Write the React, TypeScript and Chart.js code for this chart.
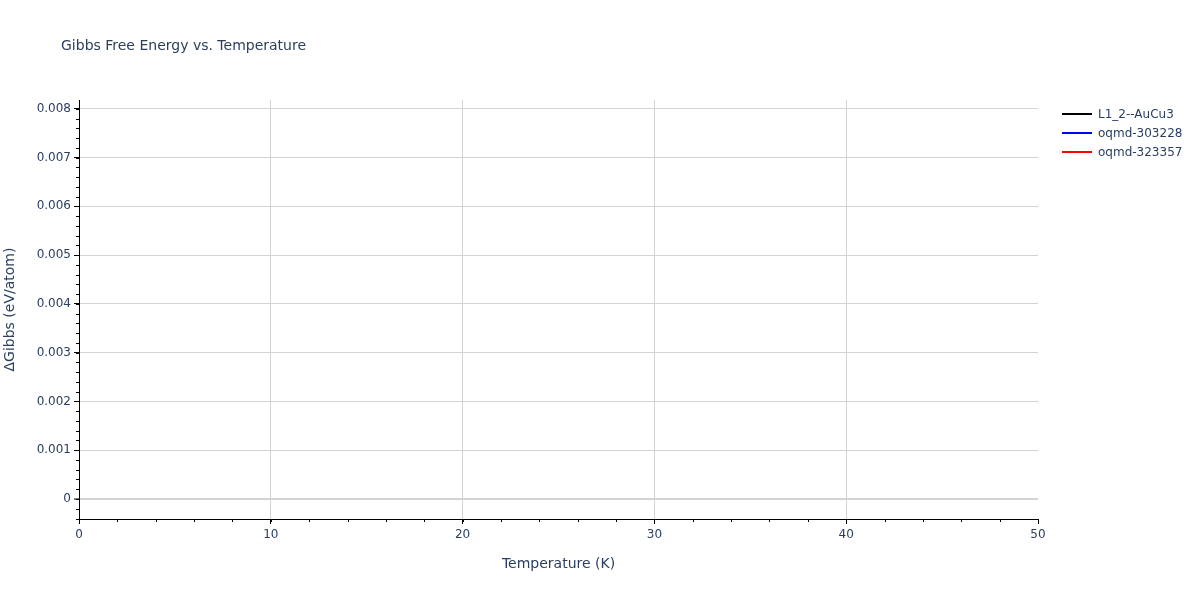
import React, { useEffect, useRef } from "react";
import Chart from "chart.js/auto";

// series (no points fall inside the plotted window in the reference)
const seriesNames = ["L1_2--AuCu3", "oqmd-303228", "oqmd-323357"];
const seriesColors = ["#000000", "#0000ff", "#ff0000"];
const temperatures: number[] = [];
const gibbsAuCu3: number[] = [];
const gibbsOqmd303228: number[] = [];
const gibbsOqmd323357: number[] = [];

// axes
const xTicks = [0, 10, 20, 30, 40, 50];
const yTicks = [0, 0.001, 0.002, 0.003, 0.004, 0.005, 0.006, 0.007, 0.008];
const xRange = [0, 50];
const yRange = [-0.00041, 0.00818];

const FONT = "'DejaVu Sans', Verdana, sans-serif";
const TEXT = "#2a3f5f";
const GRID = "#d3d3d3";

const toPoints = (ys: number[]) => temperatures.map((t, i) => ({ x: t, y: ys[i] }));

const decorPlugin = {
  id: "decor",
  afterDraw(chart: any) {
    const ctx = chart.ctx as CanvasRenderingContext2D;
    const xs = chart.scales.x;
    const ys = chart.scales.y;
    const area = chart.chartArea;
    ctx.save();

    // minor ticks
    ctx.strokeStyle = "#000";
    ctx.lineWidth = 1;
    ctx.beginPath();
    for (let v = xRange[0]; v <= xRange[1] + 1e-9; v += 2) {
      const px = Math.round(xs.getPixelForValue(v)) + 0.5;
      ctx.moveTo(px, area.bottom);
      ctx.lineTo(px, area.bottom + 3);
    }
    for (let k = -2; k <= 40; k++) {
      const py = Math.round(ys.getPixelForValue(k * 0.0002)) + 0.5;
      ctx.moveTo(area.left, py);
      ctx.lineTo(area.left - 3, py);
    }
    ctx.stroke();

    // title
    ctx.fillStyle = TEXT;
    ctx.font = `14px ${FONT}`;
    ctx.textBaseline = "middle";
    ctx.textAlign = "left";
    ctx.fillText("Gibbs Free Energy vs. Temperature", 61, 46);

    // legend
    ctx.font = `12px ${FONT}`;
    chart.data.datasets.forEach((ds: any, i: number) => {
      const y = 114 + i * 19;
      ctx.strokeStyle = ds.borderColor;
      ctx.lineWidth = 2;
      ctx.beginPath();
      ctx.moveTo(1062, y);
      ctx.lineTo(1092, y);
      ctx.stroke();
      ctx.fillStyle = TEXT;
      ctx.fillText(ds.label, 1098, y + 1);
    });
    ctx.restore();
  },
};

const App: React.FC = () => {
  const chartRef = useRef<HTMLCanvasElement | null>(null);
  const chartInstance = useRef<Chart | null>(null);

  useEffect(() => {
    document.body.style.margin = "0";
    if (!chartRef.current) return;
    if (chartInstance.current) chartInstance.current.destroy();
    const ctx = chartRef.current.getContext("2d");
    if (!ctx) return;

    const series = [gibbsAuCu3, gibbsOqmd303228, gibbsOqmd323357];

    chartInstance.current = new Chart(ctx, {
      type: "line",
      data: {
        datasets: series.map((ys, i) => ({
          label: seriesNames[i],
          data: toPoints(ys),
          borderColor: seriesColors[i],
          backgroundColor: seriesColors[i],
          borderWidth: 2,
          pointRadius: 0,
          fill: false,
        })),
      },
      options: {
        animation: false,
        responsive: false,
        layout: { padding: { top: 100, right: 162, left: 0, bottom: 0 } },
        plugins: {
          legend: { display: false },
          title: { display: false },
          tooltip: { enabled: false },
        },
        scales: {
          x: {
            type: "linear",
            min: xRange[0],
            max: xRange[1],
            afterBuildTicks: (s: any) => {
              s.ticks = xTicks.map((value) => ({ value }));
            },
            afterFit: (s: any) => {
              s.height = 81;
            },
            grid: {
              color: (c: any) =>
                c.tick && (c.tick.value === xRange[0] || c.tick.value === xRange[1])
                  ? "rgba(0,0,0,0)"
                  : GRID,
              tickColor: "#000",
              tickLength: 5,
              tickWidth: 1,
            },
            border: { color: "#000", width: 1 },
            ticks: {
              color: TEXT,
              font: { family: FONT, size: 12 },
              padding: 4,
              maxRotation: 0,
              callback: (v: any) => String(v),
            },
            title: {
              display: true,
              text: "Temperature (K)",
              color: TEXT,
              font: { family: FONT, size: 14 },
              padding: { top: 0, bottom: 27 },
            },
          },
          y: {
            type: "linear",
            min: yRange[0],
            max: yRange[1],
            afterBuildTicks: (s: any) => {
              s.ticks = yTicks.map((value) => ({ value }));
            },
            afterFit: (s: any) => {
              s.width = 79;
            },
            grid: {
              color: GRID,
              lineWidth: (c: any) => (c.tick && c.tick.value === 0 ? 2 : 1),
              tickColor: "#000",
              tickLength: 5,
              tickWidth: 1,
            },
            border: { color: "#000", width: 1 },
            ticks: {
              color: TEXT,
              font: { family: FONT, size: 12 },
              padding: 3,
              callback: (v: any) => String(v),
            },
            title: {
              display: true,
              text: "ΔGibbs (eV/atom)",
              color: TEXT,
              font: { family: FONT, size: 14 },
              padding: { top: 2, bottom: 0 },
            },
          },
        },
      },
      plugins: [decorPlugin],
    } as any);

    return () => {
      if (chartInstance.current) {
        chartInstance.current.destroy();
        chartInstance.current = null;
      }
    };
  }, []);

  return (
    <div style={{ width: 1200, height: 600, background: "#fff" }}>
      <canvas ref={chartRef} width="1200" height="600" style={{ display: "block" }}></canvas>
    </div>
  );
};

export default App;
